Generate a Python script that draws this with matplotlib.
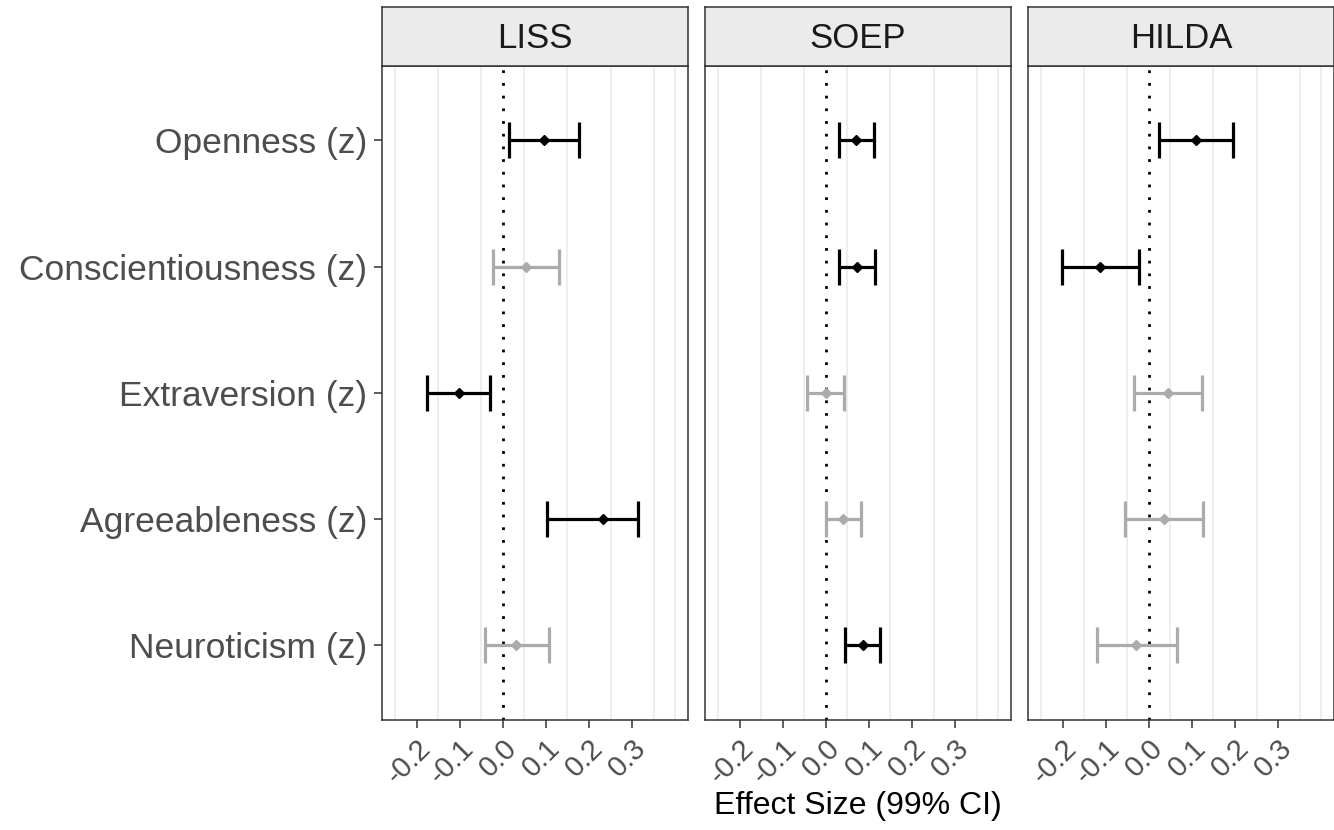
import numpy as np
import matplotlib.pyplot as plt

plt.rcParams['font.family'] = ['Liberation Sans', 'DejaVu Sans']

traits = ["Openness (z)", "Conscientiousness (z)", "Extraversion (z)",
          "Agreeableness (z)", "Neuroticism (z)"]
studies = ["LISS", "SOEP", "HILDA"]

# estimate, lower, upper per study (same order as traits)
liss_est = [0.095, 0.053, -0.103, 0.232, 0.031]
liss_lo = [0.014, -0.023, -0.177, 0.102, -0.042]
liss_hi = [0.177, 0.130, -0.029, 0.313, 0.107]

soep_est = [0.070, 0.072, 0.000, 0.039, 0.086]
soep_lo = [0.030, 0.030, -0.043, -0.001, 0.045]
soep_hi = [0.112, 0.115, 0.041, 0.081, 0.125]

hilda_est = [0.109, -0.113, 0.044, 0.035, -0.029]
hilda_lo = [0.023, -0.201, -0.035, -0.055, -0.121]
hilda_hi = [0.195, -0.024, 0.124, 0.126, 0.066]

est = [liss_est, soep_est, hilda_est]
lo = [liss_lo, soep_lo, hilda_lo]
hi = [liss_hi, soep_hi, hilda_hi]

xticks = [-0.2, -0.1, 0.0, 0.1, 0.2, 0.3]
xgrid = [-0.25, -0.15, -0.05, 0.05, 0.15, 0.25, 0.35, 0.40]

W, H = 1334, 830
fig = plt.figure(figsize=(W / 100, H / 100), dpi=100)

lefts = [382, 705, 1028]
pw = 306
top, bottom = 66, 719.5
strip_top = 7

ypos = np.arange(len(traits))[::-1] + 1  # Openness at top

for i, s in enumerate(studies):
    ax = fig.add_axes([lefts[i] / W, 1 - bottom / H, pw / W, (bottom - top) / H])
    for g in xgrid:
        ax.axvline(g, color='#EBEBEB', lw=1.2, zorder=0)
    ax.axvline(0, color='black', lw=2.0, dashes=(1, 3.57), dash_capstyle='butt', zorder=1)
    for j in range(len(traits)):
        sig = lo[i][j] > 0 or hi[i][j] < 0
        c = 'black' if sig else '#ABABAB'
        ax.errorbar(est[i][j], ypos[j],
                    xerr=[[est[i][j] - lo[i][j]], [hi[i][j] - est[i][j]]],
                    fmt='D', color=c, ms=5, elinewidth=2.3, capsize=13, capthick=2.3,
                    zorder=3)
    ax.set_xlim(-0.281, 0.430)
    ax.set_ylim(0.41, 5.59)
    ax.set_xticks(xticks)
    ax.set_xticklabels([f"{t:.1f}" for t in xticks], rotation=45,
                       ha='right', va='top', rotation_mode='anchor')
    ax.set_yticks(ypos)
    if i == 0:
        ax.set_yticklabels(traits)
    else:
        ax.set_yticklabels([])
        ax.tick_params(axis='y', length=0)
    ax.tick_params(axis='x', labelsize=21, colors='#333333', labelcolor='#4D4D4D',
                   length=5.5, width=1.1, pad=5)
    ax.tick_params(axis='y', labelsize=25.5, colors='#333333', labelcolor='#4D4D4D',
                   width=1.1, pad=5)
    if i == 0:
        ax.tick_params(axis='y', length=5.5)
    for sp in ax.spines.values():
        sp.set_color('#333333')
        sp.set_linewidth(1.1)

    sax = fig.add_axes([lefts[i] / W, 1 - top / H, pw / W, (top - strip_top) / H])
    sax.set_facecolor('#EBEBEB')
    sax.set_xticks([])
    sax.set_yticks([])
    for sp in sax.spines.values():
        sp.set_color('#333333')
        sp.set_linewidth(1.1)
    sax.text(0.5, 0.47, s, ha='center', va='center', fontsize=25, color='#1A1A1A',
             transform=sax.transAxes)

fig.text((lefts[0] + lefts[2] + pw) / 2 / W, 1 - 806 / H, "Effect Size (99% CI)",
         ha='center', va='center', fontsize=23, color='black')

fig.savefig("out.png", dpi=100)
